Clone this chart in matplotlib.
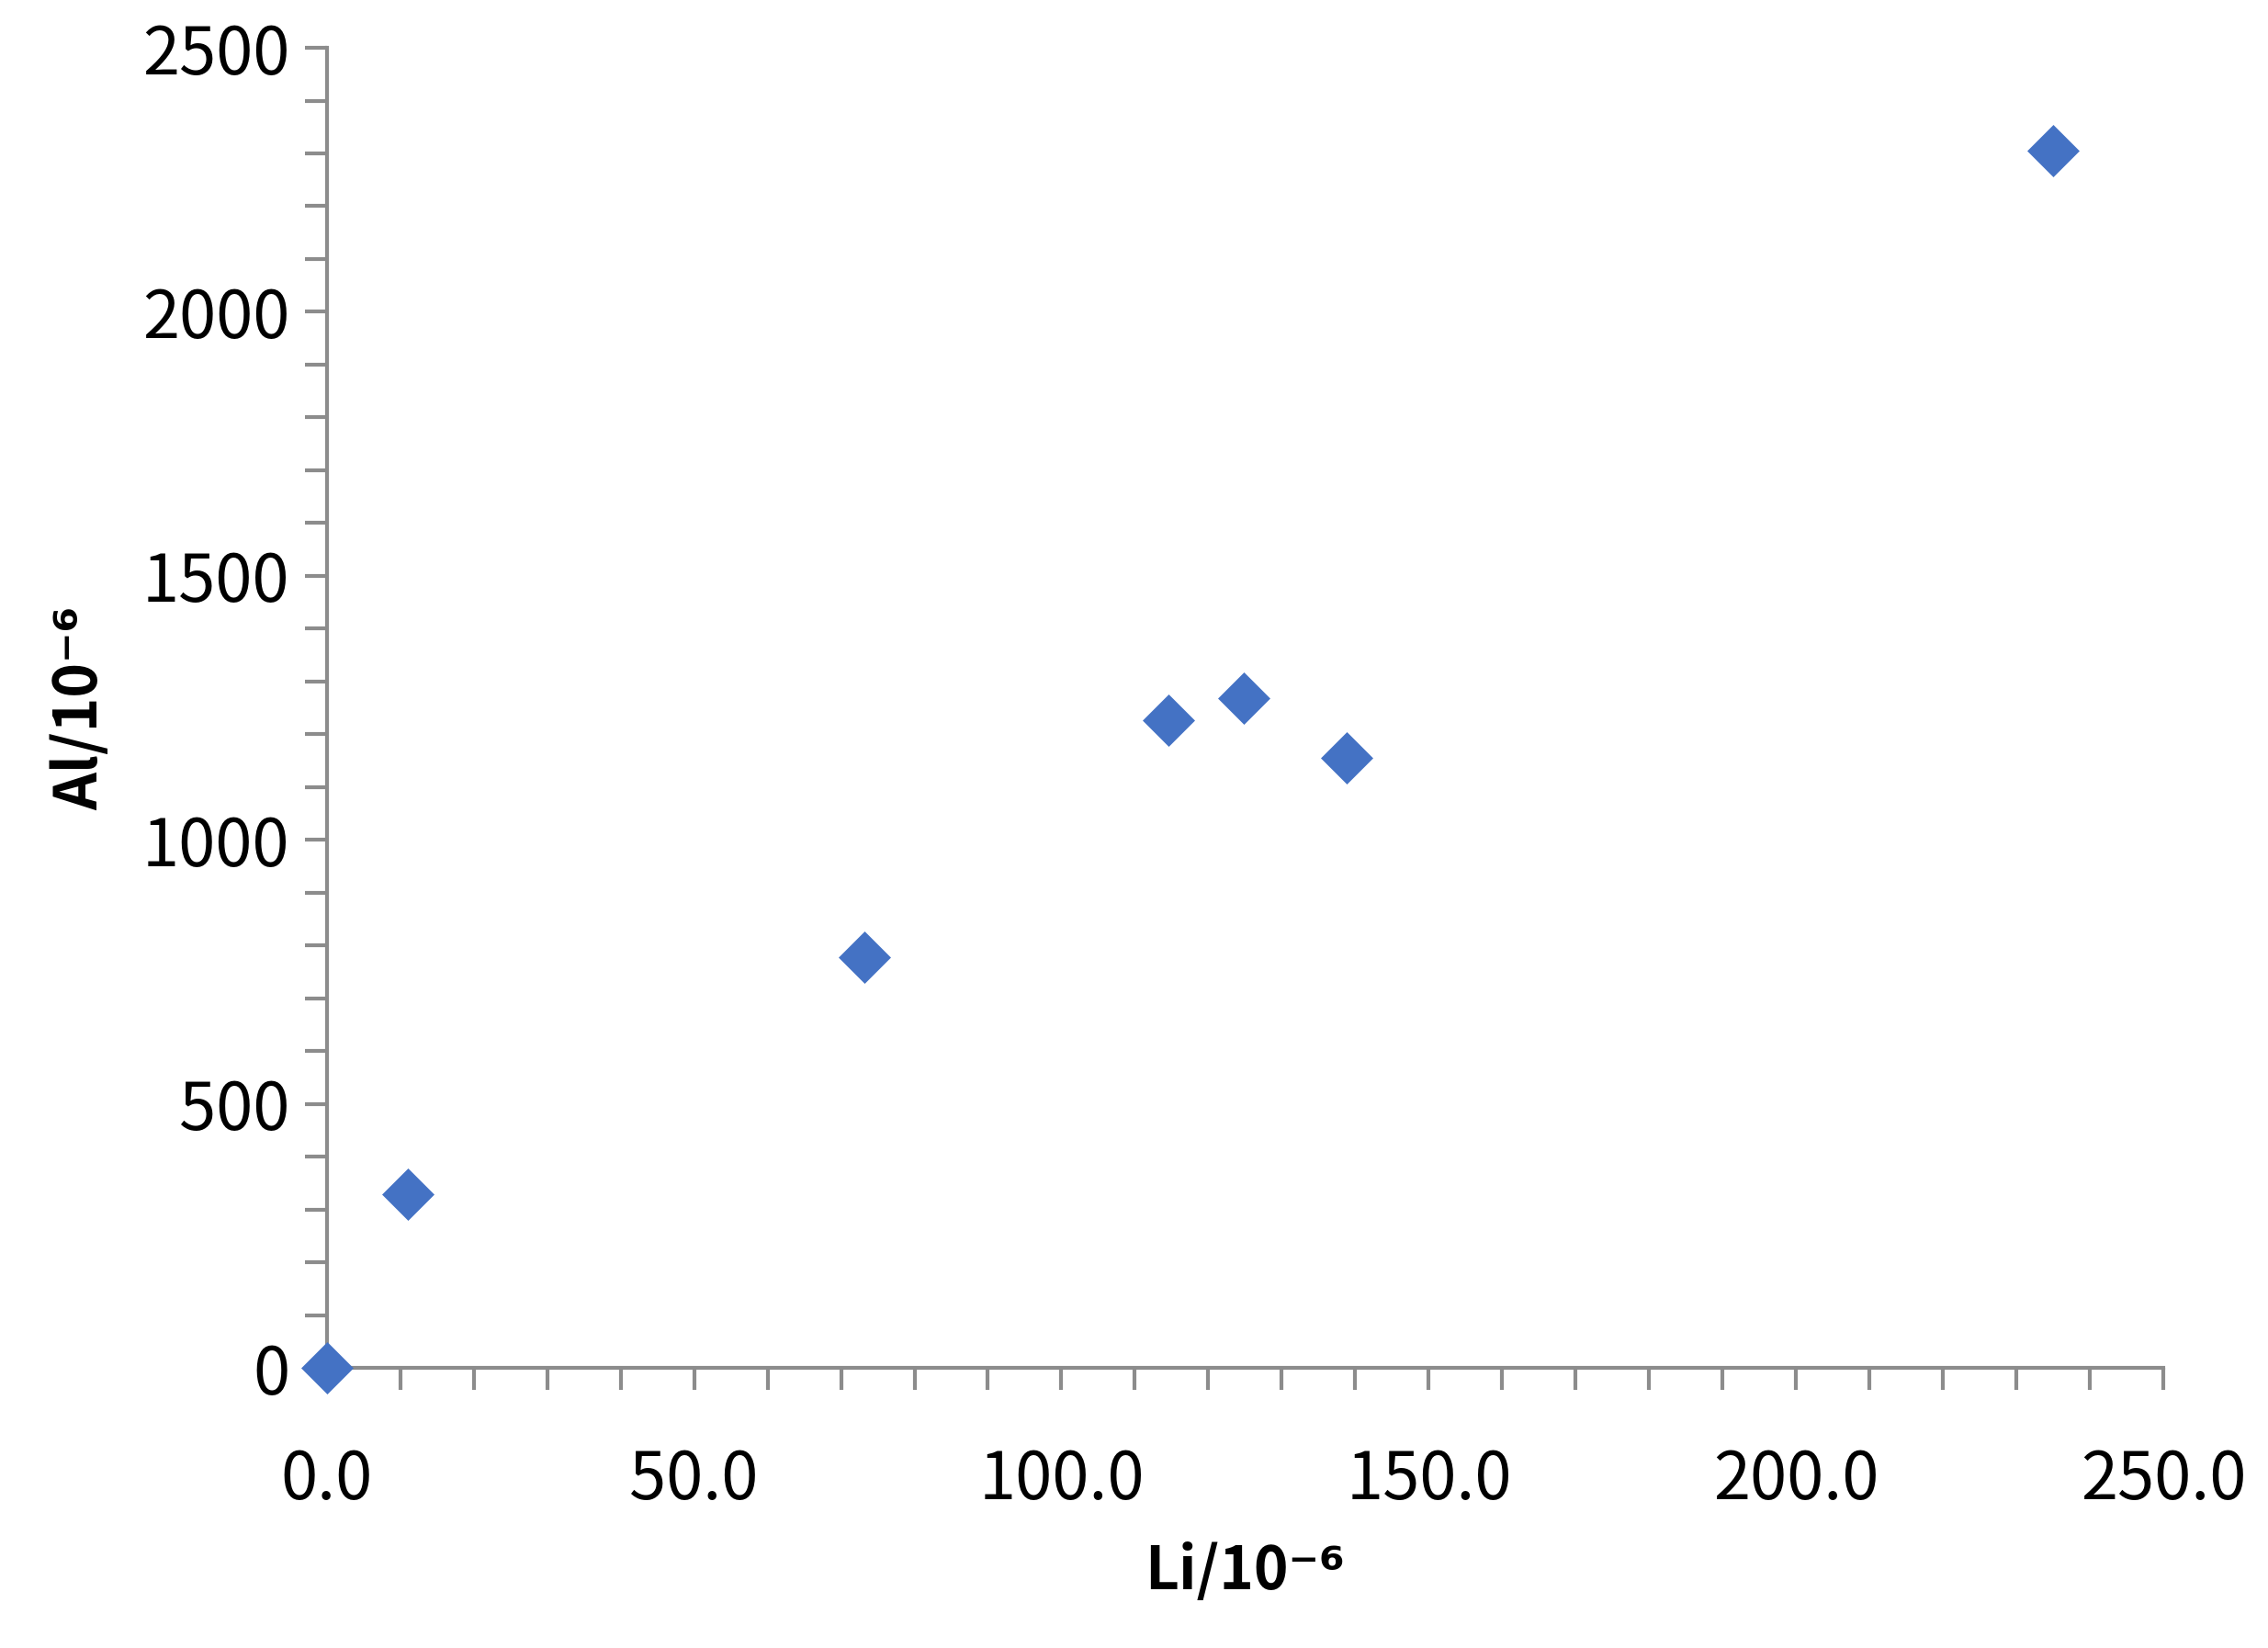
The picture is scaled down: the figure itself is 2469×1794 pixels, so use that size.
import matplotlib
matplotlib.use("Agg")
import matplotlib.pyplot as plt
from matplotlib.ticker import MultipleLocator, FormatStrFormatter

li = [0.0, 11.0, 73.2, 114.6, 124.8, 138.8, 235.0]
al = [0, 328, 778, 1227, 1268, 1156, 2305]

plt.rcParams['font.family'] = ['Noto Sans CJK SC', 'DejaVu Sans']
fig = plt.figure(figsize=(24.69, 17.94), dpi=100)
ax = fig.add_axes([0.144, 0.170, 0.810, 0.801])
ax.scatter(li, al, marker='D', s=29**2, color='#4472C4', clip_on=False, zorder=3, linewidths=0)
ax.set_xlim(0, 250)
ax.set_ylim(0, 2500)
ax.xaxis.set_major_locator(MultipleLocator(50))
ax.xaxis.set_minor_locator(MultipleLocator(10))
ax.yaxis.set_major_locator(MultipleLocator(500))
ax.yaxis.set_minor_locator(MultipleLocator(100))
ax.xaxis.set_major_formatter(FormatStrFormatter('%.1f'))
for s in ['top', 'right']:
    ax.spines[s].set_visible(False)
for s in ['left', 'bottom']:
    ax.spines[s].set_color('#8c8c8c')
    ax.spines[s].set_linewidth(3)
ax.tick_params(which='both', direction='out', length=17, width=3, color='#8c8c8c',
               labelsize=52, labelcolor='black')
ax.tick_params(axis='x', pad=45)
ax.tick_params(axis='y', pad=12)
ax.set_xlabel('Li/10⁻⁶', fontsize=46, fontweight='bold', labelpad=22)
ax.set_ylabel('Al/10⁻⁶', fontsize=46, fontweight='bold', labelpad=25)
fig.savefig('out.png', dpi=100)
